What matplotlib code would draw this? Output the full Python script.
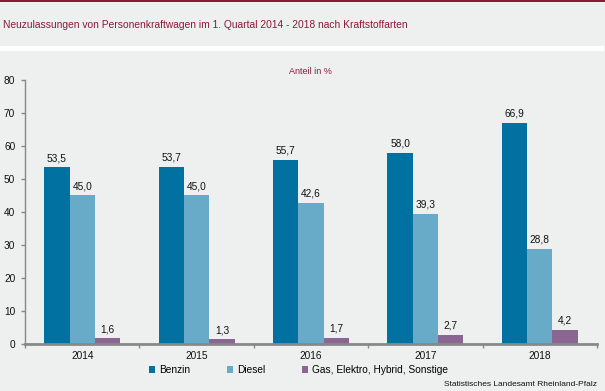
import matplotlib
matplotlib.use("Agg")
import matplotlib.pyplot as plt
import numpy as np
from matplotlib.patches import Rectangle

years = ["2014", "2015", "2016", "2017", "2018"]
benzin = [53.5, 53.7, 55.7, 58.0, 66.9]
diesel = [45.0, 45.0, 42.6, 39.3, 28.8]
gas = [1.6, 1.3, 1.7, 2.7, 4.2]
series_names = ["Benzin", "Diesel", "Gas, Elektro, Hybrid, Sonstige"]
colors = ["#0071A1", "#67ABC9", "#8C6692"]
yticks = [0, 10, 20, 30, 40, 50, 60, 70, 80]

plt.rcParams["font.family"] = ["Liberation Sans", "DejaVu Sans"]

W, H = 605, 391
fig = plt.figure(figsize=(W / 100, H / 100), dpi=100)
fig.patch.set_facecolor("#EEEFEF")

# top dark red bar and white separator
fig.add_artist(Rectangle((0, 1 - 2 / H), 1, 2 / H, transform=fig.transFigure,
                         facecolor="#8B1A33", edgecolor="none"))
fig.add_artist(Rectangle((0, 1 - 51 / H), 604 / W, 5 / H, transform=fig.transFigure,
                         facecolor="white", edgecolor="none"))
fig.text(3 / W, 1 - 25 / H, "Neuzulassungen von Personenkraftwagen im 1. Quartal 2014 - 2018 nach Kraftstoffarten",
         color="#8B1A3A", fontsize=7.4, va="center", ha="left")

ax = fig.add_axes([25 / W, (H - 343.7) / H, (597 - 25) / W, (343.7 - 80) / H])
ax.set_facecolor("#EEEFEF")

x = np.arange(len(years))
bw = 0.222
for i, (vals, c) in enumerate(zip([benzin, diesel, gas], colors)):
    pos = x + (i - 1) * bw
    ax.bar(pos, vals, width=bw, color=c, label=series_names[i], zorder=2)
    for p, v in zip(pos, vals):
        ax.text(p, v + 1.3, f"{v:.1f}".replace(".", ","), ha="center", va="bottom",
                fontsize=7.3, color="#111111")

ax.set_xlim(-0.5, len(years) - 0.5)
ax.set_ylim(0, 80)
ax.set_yticks(yticks)
ax.set_yticklabels([str(t) for t in yticks], fontsize=7.3, color="#111111")
ax.set_xticks(x)
ax.set_xticklabels(years, fontsize=7.3, color="#111111")
ax.set_xticks(np.arange(-0.5, len(years)), minor=True)
ax.tick_params(axis="x", which="major", length=0, pad=5)
ax.tick_params(axis="x", which="minor", length=3, width=1, color="#888888")
ax.tick_params(axis="y", length=3, width=1, color="#888888", pad=4)
for s in ["top", "right"]:
    ax.spines[s].set_visible(False)
ax.spines["left"].set_color("#888888")
ax.spines["left"].set_linewidth(1)
ax.spines["bottom"].set_color("#888888")
ax.spines["bottom"].set_linewidth(2)

fig.text(310 / W, 1 - 71 / H, "Anteil in %", ha="center", va="center",
         fontsize=6.5, color="#8B1A3A")

fig.legend(loc="center", bbox_to_anchor=(0.493, 1 - 370 / H), ncol=3, frameon=False,
           fontsize=7.3, handlelength=0.6, handleheight=0.6, handletextpad=0.4,
           columnspacing=3.6)

fig.text(597 / W, 1 - 384 / H, "Statistisches Landesamt Rheinland-Pfalz", ha="right", va="center",
         fontsize=6, color="#111111")

fig.savefig("out.png", dpi=100, facecolor=fig.get_facecolor())
